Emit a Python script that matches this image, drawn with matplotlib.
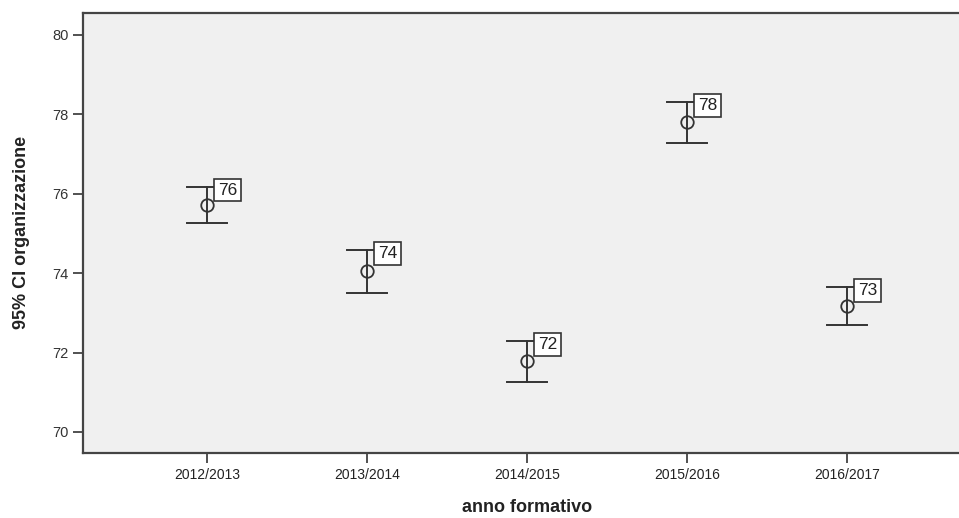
import matplotlib
matplotlib.use("Agg")
import matplotlib.pyplot as plt

categories = ["2012/2013", "2013/2014", "2014/2015", "2015/2016", "2016/2017"]
means = [75.72, 74.06, 71.79, 77.80, 73.16]
upper = [76.18, 74.58, 72.29, 78.31, 73.65]
lower = [75.25, 73.50, 71.26, 77.28, 72.70]
labels = ["76", "74", "72", "78", "73"]

plt.rcParams['font.family'] = ['Liberation Sans', 'DejaVu Sans']

fig = plt.figure(figsize=(9.59, 5.18), dpi=100)
ax = fig.add_axes([83/959, 65/518, 1 - 83/959, (453-13)/518])
ax.set_facecolor('#F0F0F0')

x = list(range(len(categories)))
for xi, m, u, l, lab in zip(x, means, upper, lower, labels):
    ax.plot([xi, xi], [l, u], color='#333333', lw=1.4, zorder=2)
    ax.plot([xi - 0.125, xi + 0.125], [u, u], color='#333333', lw=1.4, zorder=2)
    ax.plot([xi - 0.125, xi + 0.125], [l, l], color='#333333', lw=1.4, zorder=2)
    ax.plot([xi], [m], marker='o', ms=9, mfc='none', mec='#333333', mew=1.3, zorder=3)
    ax.annotate(lab, xy=(xi, u), xytext=(8, -2.5), textcoords='offset points',
                ha='left', va='center', fontsize=12.5, color='#222222',
                bbox=dict(boxstyle='square,pad=0.22', fc='white', ec='#333333', lw=1.2),
                zorder=4)

ax.set_xlim(-0.775, 4.7)
ax.set_ylim(69.47, 80.55)
ax.set_xticks(x)
ax.set_xticklabels(categories, fontsize=10)
ax.set_yticks([70, 72, 74, 76, 78, 80])
ax.tick_params(axis='y', labelsize=10.5, length=7, width=1.2, colors='#333333', labelcolor='#333333')
ax.tick_params(axis='x', length=7, width=1.2, colors='#333333', labelcolor='#222222')
for s in ['left', 'bottom', 'top']:
    ax.spines[s].set_color('#444444')
    ax.spines[s].set_linewidth(1.6)
ax.spines['right'].set_visible(False)

fig.text(22/959, 1 - 232/518, '95% CI organizzazione', rotation=90, ha='center', va='center',
         fontsize=13, fontweight='bold', color='#222222')
fig.text(527/959, 1 - 508/518, 'anno formativo', ha='center', va='center',
         fontsize=13, fontweight='bold', color='#222222')

fig.savefig('out.png', dpi=100)
